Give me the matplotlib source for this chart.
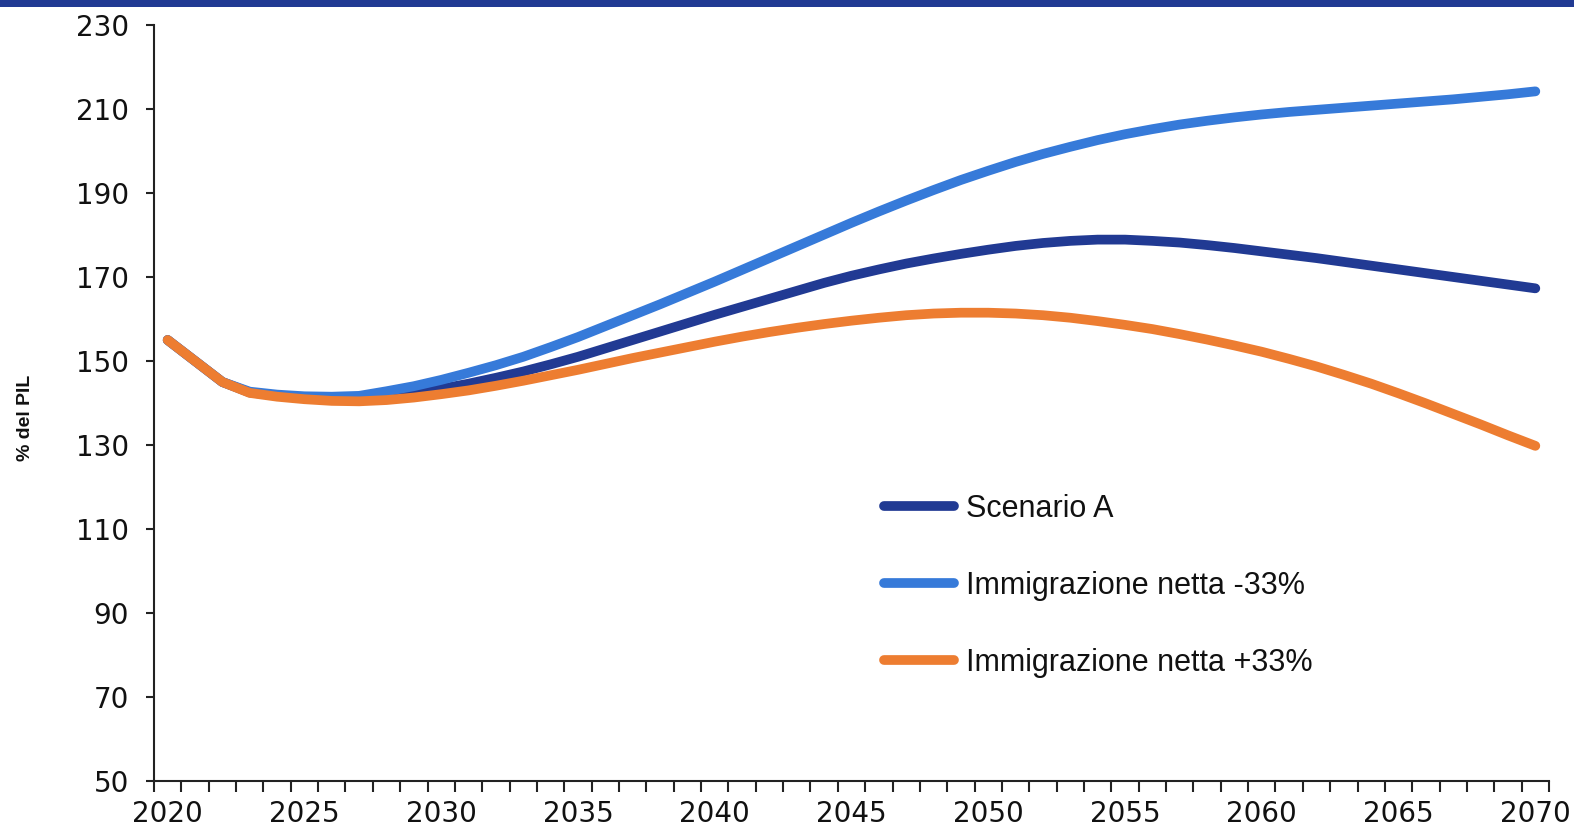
import matplotlib
matplotlib.use("Agg")
import matplotlib.pyplot as plt
from matplotlib.patches import Rectangle
import numpy as np

years = list(range(2020, 2071))

scenario_a = [
    155.0, 150.0, 145.0, 142.5, 141.8, 141.3, 141.0, 141.1, 141.6, 142.4,
    143.4, 144.6, 146.0, 147.5, 149.2, 151.0, 153.0, 155.0, 157.0, 159.0,
    161.0, 162.9, 164.8, 166.7, 168.6, 170.3, 171.8, 173.2, 174.4, 175.5,
    176.5, 177.4, 178.1, 178.6, 178.9, 178.9, 178.6, 178.2, 177.6, 176.9,
    176.1, 175.3, 174.5, 173.6, 172.7, 171.8, 170.9, 170.0, 169.1, 168.2,
    167.3,
]

immig_minus33 = [
    155.0, 150.0, 145.0, 142.7, 142.0, 141.6, 141.5, 141.7, 142.8, 144.0,
    145.5, 147.2, 149.0, 151.0, 153.3, 155.7, 158.3, 160.9, 163.5, 166.2,
    168.9, 171.7, 174.5, 177.3, 180.1, 182.9, 185.6, 188.2, 190.7, 193.1,
    195.3, 197.4, 199.3, 201.0, 202.6, 204.0, 205.2, 206.3, 207.2, 208.0,
    208.7, 209.3, 209.8, 210.3, 210.8, 211.3, 211.8, 212.3, 212.9, 213.5,
    214.2,
]

immig_plus33 = [
    155.0, 150.0, 145.0, 142.4, 141.5, 140.9, 140.5, 140.4, 140.7, 141.3,
    142.1, 143.0, 144.1, 145.3, 146.6, 147.9, 149.3, 150.7, 152.0, 153.3,
    154.6, 155.8, 156.9, 157.9, 158.8, 159.6, 160.3, 160.9, 161.3, 161.5,
    161.5, 161.3, 160.9, 160.3, 159.5, 158.6, 157.6, 156.4, 155.1, 153.7,
    152.2, 150.5, 148.7, 146.7, 144.6, 142.3, 139.9, 137.4, 134.9, 132.3,
    129.8,
]

series_labels = ["Scenario A", "Immigrazione netta -33%", "Immigrazione netta +33%"]
series_colors = ["#213a93", "#367ad9", "#ed7d31"]
y_ticks = list(range(50, 231, 20))
x_label_years = list(range(2020, 2071, 5))

W, H = 1574, 835
fig = plt.figure(figsize=(W / 100, H / 100), dpi=100)
fig.patch.set_facecolor("white")

# header band across the top
fig.add_artist(Rectangle((0, 1 - 7 / H), 1, 7 / H, transform=fig.transFigure,
                         facecolor="#213a93", edgecolor="none"))

ax = fig.add_axes([154 / W, 1 - 781 / H, (1549 - 154) / W, (781 - 25) / H])

pos = np.arange(len(years))
for vals, lab, col in zip([scenario_a, immig_minus33, immig_plus33], series_labels, series_colors):
    ax.plot(pos, vals, color=col, lw=7, solid_capstyle="round",
            solid_joinstyle="round", label=lab)

ax.set_xlim(-0.5, len(years) - 0.5)
ax.set_ylim(50, 230)

# category axis: ticks at category boundaries, labels centred on categories
ax.set_xticks(np.arange(len(years) + 1) - 0.5)
ax.set_xticklabels([])
ax.set_xticks([years.index(y) for y in x_label_years], minor=True)
ax.set_xticklabels([str(y) for y in x_label_years], minor=True)
ax.tick_params(axis="x", which="major", direction="out", length=8, width=1.5, color="#222222")
ax.tick_params(axis="x", which="minor", length=0, pad=14, labelsize=20)

ax.set_yticks(y_ticks)
ax.set_yticklabels([str(v) for v in y_ticks])
ax.tick_params(axis="y", direction="out", length=6, width=1.5, color="#222222", pad=12, labelsize=20)

for lbl in ax.get_xticklabels(minor=True) + ax.get_yticklabels():
    lbl.set_fontfamily("DejaVu Sans")
    lbl.set_color("#111111")

for s in ["top", "right"]:
    ax.spines[s].set_visible(False)
for s in ["left", "bottom"]:
    ax.spines[s].set_linewidth(1.5)
    ax.spines[s].set_color("#222222")

fig.text(25 / W, 1 - 418 / H, "% del PIL", rotation=90, ha="center", va="center",
         fontsize=14, fontweight="bold", family="Liberation Sans", color="#111111")

leg = ax.legend(loc="upper left", bbox_to_anchor=(884 / W, 1 - 494 / H),
                bbox_transform=fig.transFigure, frameon=False,
                prop={"family": "Liberation Sans", "size": 22},
                handlelength=2.3, handletextpad=0.4, labelspacing=1.53,
                borderpad=0, borderaxespad=0)
for t in leg.get_texts():
    t.set_color("#111111")

fig.savefig("out.png", dpi=100, facecolor="white")
